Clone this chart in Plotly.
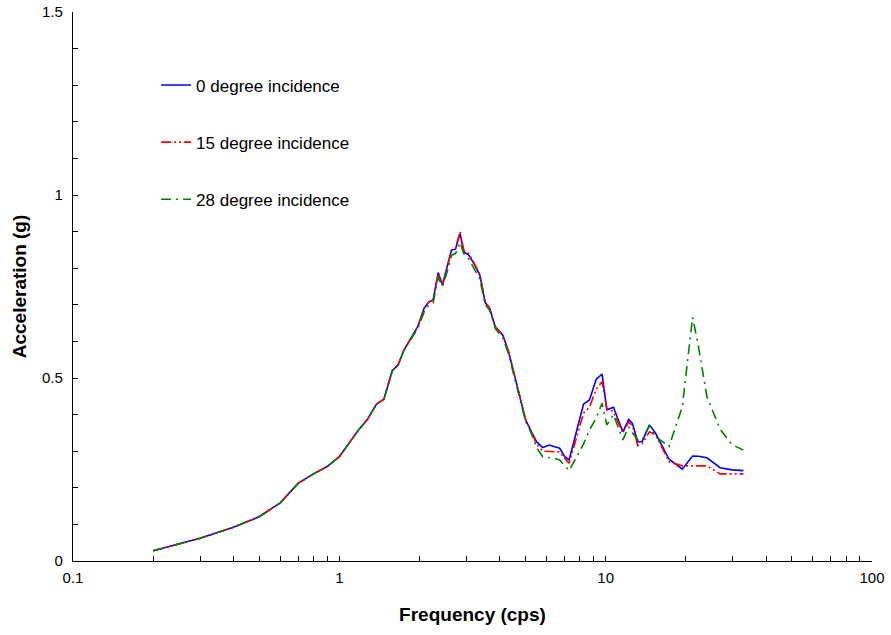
import plotly.graph_objects as go

freq = [0.2, 0.3, 0.4, 0.5, 0.6, 0.7, 0.8, 0.9, 1.0, 1.18, 1.27, 1.38, 1.47, 1.58, 1.66, 1.75,
        1.97, 2.08, 2.17, 2.25, 2.35, 2.44, 2.54, 2.64, 2.73, 2.84, 2.93, 3.06, 3.2, 3.37, 3.53,
        3.67, 3.85, 4.11, 4.32, 4.63, 5.01, 5.25, 5.5, 5.8, 6.14, 6.44, 6.72, 7.02, 7.29, 8.26,
        8.69, 9.21, 9.69, 10.1, 10.7, 11.6, 12.2, 12.6, 13.2, 13.7, 14.6, 15.4, 17.3, 19.4,
        20.2, 21.2, 22.3, 24.0, 26.9, 29.8, 32.9]

acc_0 = [0.028, 0.062, 0.092, 0.121, 0.159, 0.212, 0.238, 0.258, 0.285, 0.358, 0.385, 0.429, 0.442,
         0.52, 0.535, 0.577, 0.64, 0.69, 0.708, 0.713, 0.788, 0.754, 0.804, 0.85, 0.852, 0.895,
         0.845, 0.836, 0.813, 0.781, 0.706, 0.69, 0.64, 0.617, 0.572, 0.486, 0.385, 0.355, 0.326,
         0.31, 0.317, 0.312, 0.308, 0.285, 0.276, 0.429, 0.44, 0.496, 0.511, 0.413, 0.42, 0.353,
         0.387, 0.376, 0.326, 0.326, 0.372, 0.349, 0.278, 0.251, 0.268, 0.287, 0.286, 0.282,
         0.255, 0.249, 0.247]

acc_15 = [0.028, 0.062, 0.092, 0.121, 0.159, 0.212, 0.238, 0.258, 0.285, 0.358, 0.385, 0.429, 0.442,
          0.52, 0.535, 0.577, 0.64, 0.69, 0.708, 0.713, 0.785, 0.754, 0.804, 0.85, 0.855, 0.9,
          0.85, 0.84, 0.815, 0.784, 0.708, 0.69, 0.64, 0.617, 0.572, 0.486, 0.385, 0.355, 0.32,
          0.30, 0.30, 0.30, 0.298, 0.28, 0.267, 0.404, 0.42, 0.469, 0.49, 0.417, 0.408, 0.35,
          0.38, 0.37, 0.315, 0.32, 0.353, 0.345, 0.271, 0.26, 0.26, 0.26, 0.26, 0.26,
          0.238, 0.238, 0.238]

acc_28 = [0.028, 0.062, 0.092, 0.121, 0.159, 0.212, 0.238, 0.258, 0.285, 0.358, 0.385, 0.429, 0.442,
          0.52, 0.535, 0.577, 0.635, 0.68, 0.70, 0.705, 0.775, 0.75, 0.79, 0.835, 0.84, 0.87,
          0.84, 0.825, 0.80, 0.77, 0.70, 0.685, 0.635, 0.61, 0.565, 0.48, 0.38, 0.35, 0.31,
          0.285, 0.283, 0.28, 0.276, 0.26, 0.247, 0.32, 0.358, 0.39, 0.431, 0.372, 0.40, 0.331,
          0.366, 0.35, 0.331, 0.33, 0.37, 0.34, 0.313, 0.422, 0.531, 0.666, 0.586, 0.449,
          0.36, 0.318, 0.303]

names = ["0 degree incidence", "15 degree incidence", "28 degree incidence"]
colors = ["#0000FF", "#FF0000", "#008000"]
dashes = ["solid", "10px,3px,2px,3px,2px,3px", "10px,5px,2px,5px"]
series = [acc_0, acc_15, acc_28]

fig = go.Figure()
for i, (nm, ys) in enumerate(zip(names, series)):
    fig.add_trace(go.Scatter(
        x=freq, y=ys, mode="lines", name=nm, legendgroup=f"g{i}",
        line=dict(color=colors[i], width=1.6, dash=dashes[i]),
    ))

font_family = "Liberation Sans, Arial, sans-serif"
fig.update_layout(
    width=891, height=635,
    margin=dict(l=73, r=19, t=12, b=74, autoexpand=False),
    paper_bgcolor="white", plot_bgcolor="white",
    font=dict(family=font_family, size=15, color="#000000"),
    showlegend=True,
    legend=dict(x=0.104, y=0.899, xanchor="left", yanchor="top",
                bgcolor="rgba(0,0,0,0)", font=dict(size=17, color="#000000"),
                tracegroupgap=32, traceorder="grouped"),
    xaxis=dict(
        type="log", range=[-1, 2], dtick=1, automargin=False,
        showline=True, linecolor="#000000", linewidth=1.2,
        ticks="inside", ticklen=5, tickcolor="#000000",
        minor=dict(ticks="inside", ticklen=5, dtick="D1", tickcolor="#000000", showgrid=False),
        showgrid=False, zeroline=False,
        tickfont=dict(size=15, color="#000000"),
        title=dict(text="<b>Frequency (cps)</b>", font=dict(size=19), standoff=22),
        ticklabelstandoff=3,
    ),
    yaxis=dict(
        range=[0, 1.5], dtick=0.5, automargin=False,
        showline=True, linecolor="#000000", linewidth=1.2,
        ticks="inside", ticklen=5, tickcolor="#000000",
        minor=dict(ticks="inside", ticklen=5, dtick=0.1, tickcolor="#000000", showgrid=False),
        showgrid=False, zeroline=False,
        tickfont=dict(size=15, color="#000000"),
        title=dict(text="<b>Acceleration (g)</b>", font=dict(size=19), standoff=10),
        ticklabelstandoff=6,
    ),
)

fig.write_html("out.html")
